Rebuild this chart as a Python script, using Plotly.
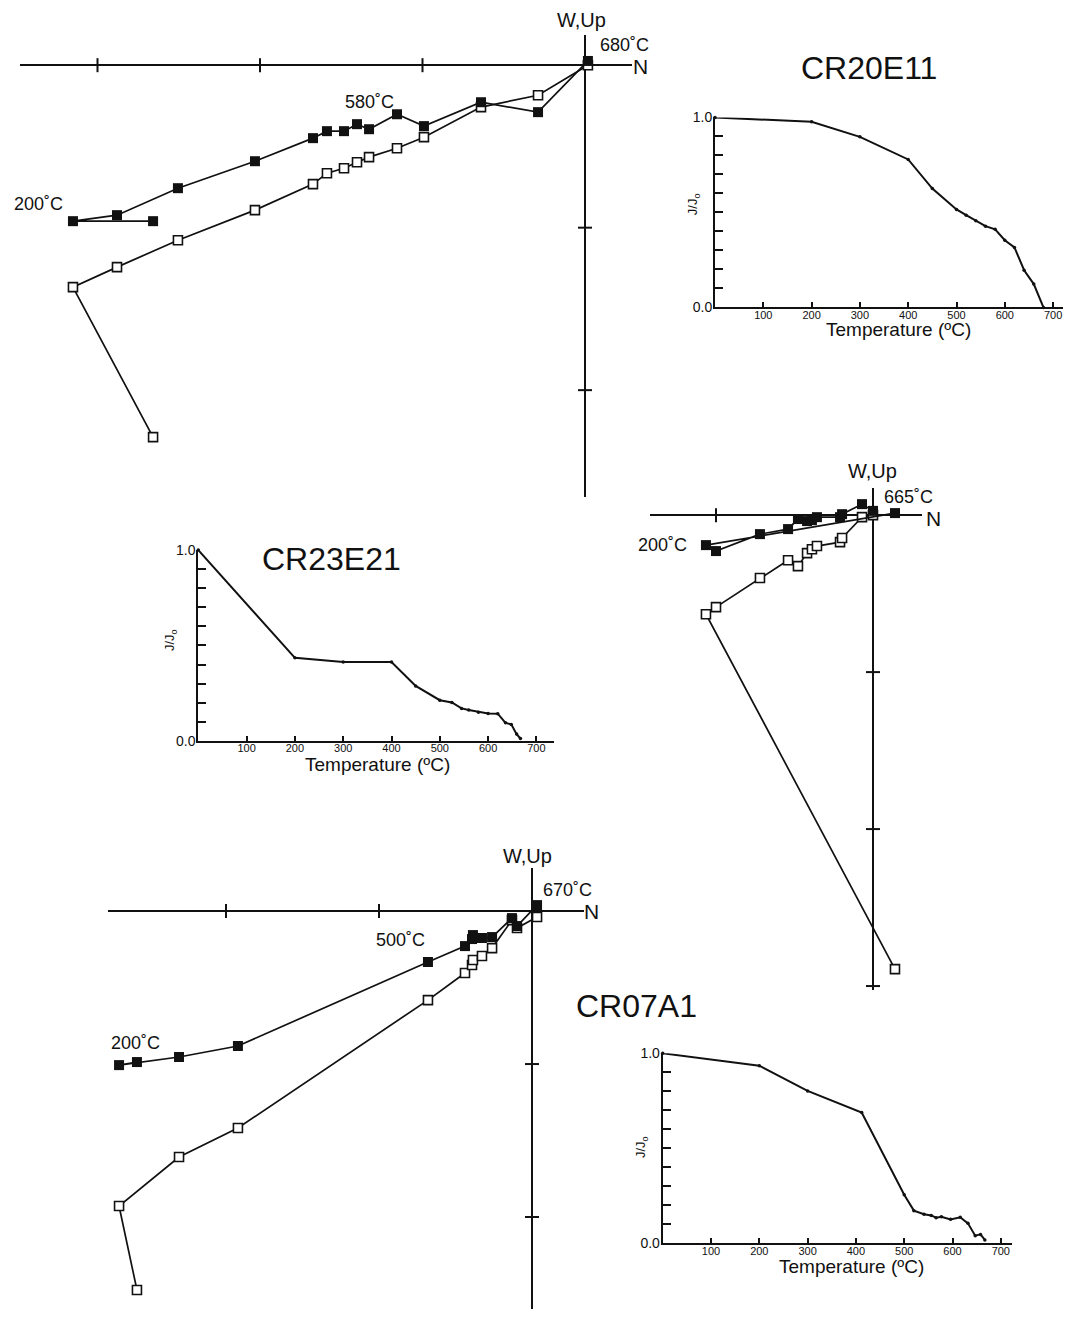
import plotly.graph_objects as go

# ---------------- data ----------------
# Zijderveld diagrams (units = one axis tick interval); N on horizontal axis,
# solid = horizontal projection (W), open = vertical projection (Up)
z1_north = [-2.658, -3.151, -2.880, -2.505, -2.031, -1.674, -1.588, -1.483, -1.403, -1.329, -1.157, -0.991, -0.640, -0.289, 0.018]
z1_west = [-0.960, -0.960, -0.923, -0.757, -0.591, -0.449, -0.406, -0.406, -0.363, -0.394, -0.302, -0.375, -0.228, -0.289, 0.026]
z1_up = [-2.289, -1.366, -1.243, -1.077, -0.892, -0.732, -0.665, -0.634, -0.597, -0.566, -0.511, -0.443, -0.258, -0.185, 0.0]

z2_north = [0.140, -1.064, -1.000, -0.720, -0.541, -0.478, -0.420, -0.389, -0.357, -0.210, -0.197, -0.070, 0.0]
z2_west = [0.013, -0.191, -0.229, -0.121, -0.089, -0.025, -0.038, -0.032, -0.013, -0.013, 0.006, 0.070, 0.027]
z2_up = [-2.892, -0.631, -0.586, -0.401, -0.287, -0.325, -0.242, -0.217, -0.197, -0.172, -0.146, -0.013, 0.0]

z3_north = [-2.582, -2.699, -2.307, -1.922, -0.680, -0.438, -0.392, -0.386, -0.327, -0.261, -0.131, -0.098, 0.033]
z3_west = [-0.987, -1.007, -0.954, -0.882, -0.333, -0.229, -0.183, -0.157, -0.176, -0.170, -0.046, -0.098, 0.039]
z3_up = [-2.477, -1.928, -1.608, -1.418, -0.582, -0.405, -0.353, -0.320, -0.294, -0.242, -0.059, -0.111, -0.039]

z1_xticks, z1_yticks = [-3, -2, -1], [-1, -2]
z2_xticks, z2_yticks = [-1], [-1, -2, -3]
z3_xticks, z3_yticks = [-2, -1], [-1, -2]

# Thermal demagnetisation curves
t1 = [0, 200, 300, 400, 450, 500, 520, 540, 560, 580, 600, 620, 640, 660, 680]
j1 = [1.0, 0.977, 0.898, 0.779, 0.626, 0.516, 0.486, 0.456, 0.428, 0.411, 0.354, 0.316, 0.196, 0.123, 0.0]
t2 = [0, 200, 300, 400, 450, 500, 525, 545, 560, 580, 600, 620, 636, 648, 659, 667]
j2 = [1.0, 0.435, 0.413, 0.413, 0.288, 0.213, 0.201, 0.170, 0.161, 0.150, 0.143, 0.142, 0.094, 0.086, 0.035, 0.012]
t3 = [0, 200, 300, 412, 500, 520, 541, 556, 566, 577, 596, 616, 632, 647, 658, 667]
j3 = [1.0, 0.935, 0.802, 0.688, 0.256, 0.172, 0.153, 0.147, 0.135, 0.140, 0.126, 0.137, 0.105, 0.040, 0.047, 0.018]

temp_ticks = [100, 200, 300, 400, 500, 600, 700]
j_ticks = [0.0, 1.0]
j_ticktext = ["0.0", "1.0"]
j_minor = [round(0.1 * i, 1) for i in range(1, 10)]

# ---------------- layout helpers ----------------
W, H = 1067, 1317
SY0, SY = 7.8, 0.988  # vertical calibration of the photographed page
FONT = "Arial, Liberation Sans, Helvetica, sans-serif"
INK = "#111111"


def fx(x):
    return x / W


def fy(y):
    return 1 - ((y - SY0) / SY) / H


fig = go.Figure()
layout = dict(
    width=W, height=H, margin=dict(l=0, r=0, t=0, b=0, pad=0), autosize=False,
    paper_bgcolor="white", plot_bgcolor="rgba(0,0,0,0)", showlegend=False,
    font=dict(family=FONT, color=INK),
)
annotations = []


def ann(text, x, y, size, angle=0):
    annotations.append(dict(text=text, x=fx(x), y=fy(y), xref="paper", yref="paper",
                            showarrow=False, xanchor="center", yanchor="middle",
                            textangle=angle, font=dict(size=size, family=FONT, color=INK)))


def zij(idx, north, west, up, xt, yt, x0, x1, y0, y1, ox, oy, s):
    xa, ya = f"xaxis{idx}", f"yaxis{idx}"
    layout[xa] = dict(domain=[fx(x0), fx(x1)], range=[(x0 - ox) / s, (x1 - ox) / s],
                      showgrid=False, zeroline=True, zerolinecolor=INK, zerolinewidth=2,
                      showticklabels=False, ticks="", showline=False, anchor=f"y{idx}", fixedrange=True)
    layout[ya] = dict(domain=[max(0.0, fy(y1)), fy(y0)], range=[(oy - y1) / s, (oy - y0) / s],
                      showgrid=False, zeroline=True, zerolinecolor=INK, zerolinewidth=2,
                      showticklabels=False, ticks="", showline=False, anchor=f"x{idx}", fixedrange=True)
    xr, yr = f"x{idx}", f"y{idx}"
    fig.add_trace(go.Scatter(x=xt, y=[0] * len(xt), xaxis=xr, yaxis=yr, mode="markers",
                             marker=dict(symbol="line-ns-open", size=10, color=INK,
                                         line=dict(color=INK, width=2)),
                             cliponaxis=False, hoverinfo="skip"))
    fig.add_trace(go.Scatter(x=[0] * len(yt), y=yt, xaxis=xr, yaxis=yr, mode="markers",
                             marker=dict(symbol="line-ew-open", size=10, color=INK,
                                         line=dict(color=INK, width=2)),
                             cliponaxis=False, hoverinfo="skip"))
    fig.add_trace(go.Scatter(x=north, y=up, xaxis=xr, yaxis=yr, mode="lines+markers",
                             line=dict(color=INK, width=1.7),
                             marker=dict(symbol="square", size=9, color="white",
                                         line=dict(color=INK, width=1.6)),
                             cliponaxis=False))
    fig.add_trace(go.Scatter(x=north, y=west, xaxis=xr, yaxis=yr, mode="lines+markers",
                             line=dict(color=INK, width=1.7),
                             marker=dict(symbol="square", size=10, color=INK),
                             cliponaxis=False))


def demag(idx, t, j, x0, x1, y0, y1):
    xs = 48.3 / 100.0
    layout[f"xaxis{idx}"] = dict(domain=[fx(x0), fx(x1)], range=[0, (x1 - x0) / xs],
                                 showgrid=False, zeroline=False, showline=True, linecolor=INK, linewidth=2,
                                 ticks="inside", ticklen=5, tickwidth=1.5, tickcolor=INK,
                                 tickvals=temp_ticks, tickfont=dict(size=11, family=FONT, color=INK),
                                 ticklabelstandoff=-4,
                                 anchor=f"y{idx}", fixedrange=True)
    layout[f"yaxis{idx}"] = dict(domain=[fy(y0), fy(y1)], range=[0, 1],
                                 showgrid=False, zeroline=False, showline=True, linecolor=INK, linewidth=2,
                                 ticks="inside", ticklen=8, tickwidth=1.5, tickcolor=INK,
                                 tickvals=j_ticks, ticktext=j_ticktext,
                                 minor=dict(tickvals=j_minor, ticks="inside", ticklen=8,
                                            tickwidth=1.5, tickcolor=INK, showgrid=False),
                                 tickfont=dict(size=14, family=FONT, color=INK),
                                 ticklabelstandoff=-2,
                                 anchor=f"x{idx}", fixedrange=True)
    fig.add_trace(go.Scatter(x=t, y=j, xaxis=f"x{idx}", yaxis=f"y{idx}", mode="lines+markers",
                             line=dict(color=INK, width=2), marker=dict(size=3.5, color=INK),
                             cliponaxis=False))


# Zijderveld panels
zij("", z1_north, z1_west, z1_up, z1_xticks, z1_yticks, 20, 632, 35, 497, 585, 65, 162.5)
zij(2, z2_north, z2_west, z2_up, z2_xticks, z2_yticks, 650, 922, 488, 990, 873, 515, 157)
zij(3, z3_north, z3_west, z3_up, z3_xticks, z3_yticks, 108, 584, 868, 1309, 532, 911, 153)

# Demagnetisation panels
demag(4, t1, j1, 715, 1063, 307.3, 117.3)
demag(5, t2, j2, 198.3, 554, 740.7, 550)
demag(6, t3, j3, 662.7, 1011.7, 1243.3, 1053.3)

# texts - panel 1
ann("W,Up", 581, 20, 20)
ann("680˚C", 624, 45, 18)
ann("N", 641, 66, 21)
ann("580˚C", 369, 102, 18)
ann("200˚C", 38, 204, 18)
ann("CR20E11", 869, 68, 32)
ann("J/J<sub>o</sub>", 693, 204, 13, -90)
ann("Temperature (ºC)", 898, 329, 19)
# panel 2
ann("W,Up", 872, 471, 20)
ann("665˚C", 908, 497, 18)
ann("N", 933, 518, 21)
ann("200˚C", 662, 545, 18)
ann("CR23E21", 331, 559, 32)
ann("J/J<sub>o</sub>", 170, 640, 13, -90)
ann("Temperature (ºC)", 377, 764, 19)
# panel 3
ann("W,Up", 527, 856, 20)
ann("670˚C", 567, 890, 18)
ann("N", 591, 911, 21)
ann("500˚C", 400, 940, 18)
ann("200˚C", 135, 1043, 18)
ann("CR07A1", 636, 1006, 32)
ann("J/J<sub>o</sub>", 641, 1147, 13, -90)
ann("Temperature (ºC)", 851, 1266, 19)

layout["annotations"] = annotations
fig.update_layout(**layout)

post = (
    "document.body.style.margin='0';"
    "document.body.style.overflow='hidden';"
)
fig.write_html("out.html", post_script=post, config={"displayModeBar": False})
